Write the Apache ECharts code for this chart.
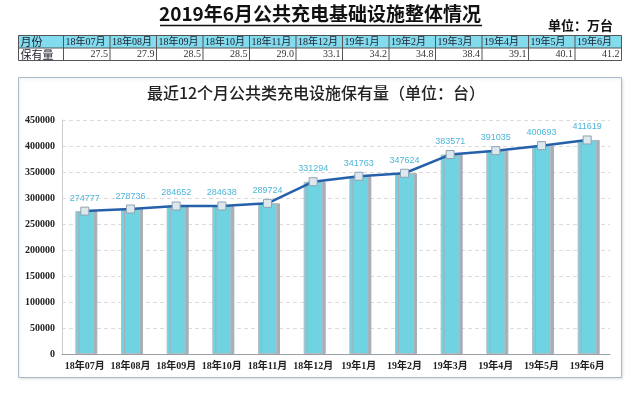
<!DOCTYPE html>
<html><head><meta charset="utf-8">
<script src="https://cdn.jsdelivr.net/npm/echarts@6/dist/echarts.min.js"></script>
<style>html,body{margin:0;padding:0;background:#fff}#c{width:640px;height:396px}</style>
</head><body><div id="c"></div>
<script>
var mainTitle = '2019年6月公共充电基础设施整体情况';
var unitText = '单位：万台';
var tableHead = ['月份', '保有量'];
var tableMonths = ['18年07月','18年08月','18年09月','18年10月','18年11月','18年12月','19年1月','19年2月','19年3月','19年4月','19年5月','19年6月'];
var tableValues = ['27.5','27.9','28.5','28.5','29.0','33.1','34.2','34.8','38.4','39.1','40.1','41.2'];
var chartTitle = '最近12个月公共类充电设施保有量（单位：台）';
var categories = ['18年07月','18年08月','18年09月','18年10月','18年11月','18年12月','19年1月','19年2月','19年3月','19年4月','19年5月','19年6月'];
var stock = [274777, 278736, 284652, 284638, 289724, 331294, 341763, 347624, 383571, 391035, 400693, 411619];

var chart = echarts.init(document.getElementById('c'));
var g = [];
// panel
g.push({type:'rect', shape:{x:18.5,y:77.5,width:603,height:300}, style:{fill:'#fff', stroke:'#a9bccd', lineWidth:1, shadowColor:'rgba(0,0,0,0.12)', shadowBlur:3, shadowOffsetX:1, shadowOffsetY:1}, z:-10});
// titles
g.push({type:'text', left:'center', top:4, style:{text:mainTitle, font:'bold 19px "Noto Sans CJK SC"', fill:'#111'}});
g.push({type:'line', shape:{x1:160,y1:25.5,x2:482,y2:25.5}, style:{stroke:'#111', lineWidth:1.5}});
g.push({type:'text', right:27, top:19, style:{text:unitText, font:'bold 13px "Noto Sans CJK SC"', fill:'#111'}});
g.push({type:'text', x:316, y:93, style:{text:chartTitle, font:'500 16px "Noto Sans CJK SC"', fill:'#222', align:'center', verticalAlign:'middle'}});
// table
var tx0 = 18.5, ty0 = 35.5, c0w = 45, cw = 46.5, rh = 12.5;
g.push({type:'rect', shape:{x:tx0,y:ty0,width:c0w+cw*tableMonths.length,height:rh}, style:{fill:'#82dced', stroke:null}});
for (var r = 0; r <= 2; r++) {
  g.push({type:'line', shape:{x1:tx0,y1:ty0+r*rh,x2:tx0+c0w+cw*tableMonths.length,y2:ty0+r*rh}, style:{stroke:'#555',lineWidth:1}});
}
for (var i = 0; i <= tableMonths.length; i++) {
  var xx = i === 0 ? tx0 : tx0 + c0w + (i-1)*cw;
  g.push({type:'line', shape:{x1:xx,y1:ty0,x2:xx,y2:ty0+2*rh}, style:{stroke:'#555',lineWidth:1}});
}
var xr = tx0 + c0w + cw*tableMonths.length;
g.push({type:'line', shape:{x1:xr,y1:ty0,x2:xr,y2:ty0+2*rh}, style:{stroke:'#555',lineWidth:1}});
g.push({type:'text', x:tx0+2, y:ty0+rh/2+0.5, style:{text:tableHead[0], font:'11px "Noto Sans CJK SC"', fill:'#223', verticalAlign:'middle'}});
g.push({type:'text', x:tx0+2, y:ty0+rh*1.5+0.5, style:{text:tableHead[1], font:'11px "Noto Sans CJK SC"', fill:'#223', verticalAlign:'middle'}});
for (var j = 0; j < tableMonths.length; j++) {
  var cx = tx0 + c0w + j*cw;
  g.push({type:'text', x:cx+2, y:ty0+rh/2+0.5, style:{text:tableMonths[j], font:'10px "Liberation Serif","Noto Sans CJK SC"', fill:'#223', verticalAlign:'middle'}});
  g.push({type:'text', x:cx+cw-2, y:ty0+rh*1.5+0.5, style:{text:tableValues[j], font:'10px "Liberation Serif"', fill:'#333', align:'right', verticalAlign:'middle'}});
}

chart.setOption({
  animation:false,
  graphic:g,
  grid:{left:62, right:30, top:120, bottom:42, containLabel:false},
  xAxis:{type:'category', data:categories,
    axisLine:{lineStyle:{color:'#9aa0a6'}}, axisTick:{show:false},
    axisLabel:{fontSize:10, fontWeight:'bold', color:'#222', fontFamily:'"Liberation Serif","Noto Sans CJK SC"', margin:7, interval:0}},
  yAxis:{type:'value', min:0, max:450000, interval:50000,
    axisLine:{show:true, lineStyle:{color:'#c8ccd0'}}, axisTick:{show:false},
    splitLine:{lineStyle:{color:'#dcdcdc', type:[4,3]}},
    axisLabel:{fontSize:10, fontWeight:'bold', color:'#222', fontFamily:'"Liberation Serif"', margin:7,
      formatter:function(v){return String(v);}}},
  series:[
    {type:'bar', data:stock, barWidth:19, z:2,
     itemStyle:{color:'#6fd3e1', borderColor:'#b4bcc4', borderWidth:1, shadowColor:'#a6aeb6', shadowOffsetX:3, shadowBlur:0}},
    {type:'line', data:stock, z:5, symbol:'rect', symbolSize:8,
     lineStyle:{color:'#2461aa', width:2.5},
     itemStyle:{color:'#dde7ee', borderColor:'#8fa3b3', borderWidth:1},
     label:{show:true, position:'top', distance:4, color:'#4db6d8', fontSize:9, fontFamily:'"Liberation Sans"'}}
  ]
});
</script></body></html>
